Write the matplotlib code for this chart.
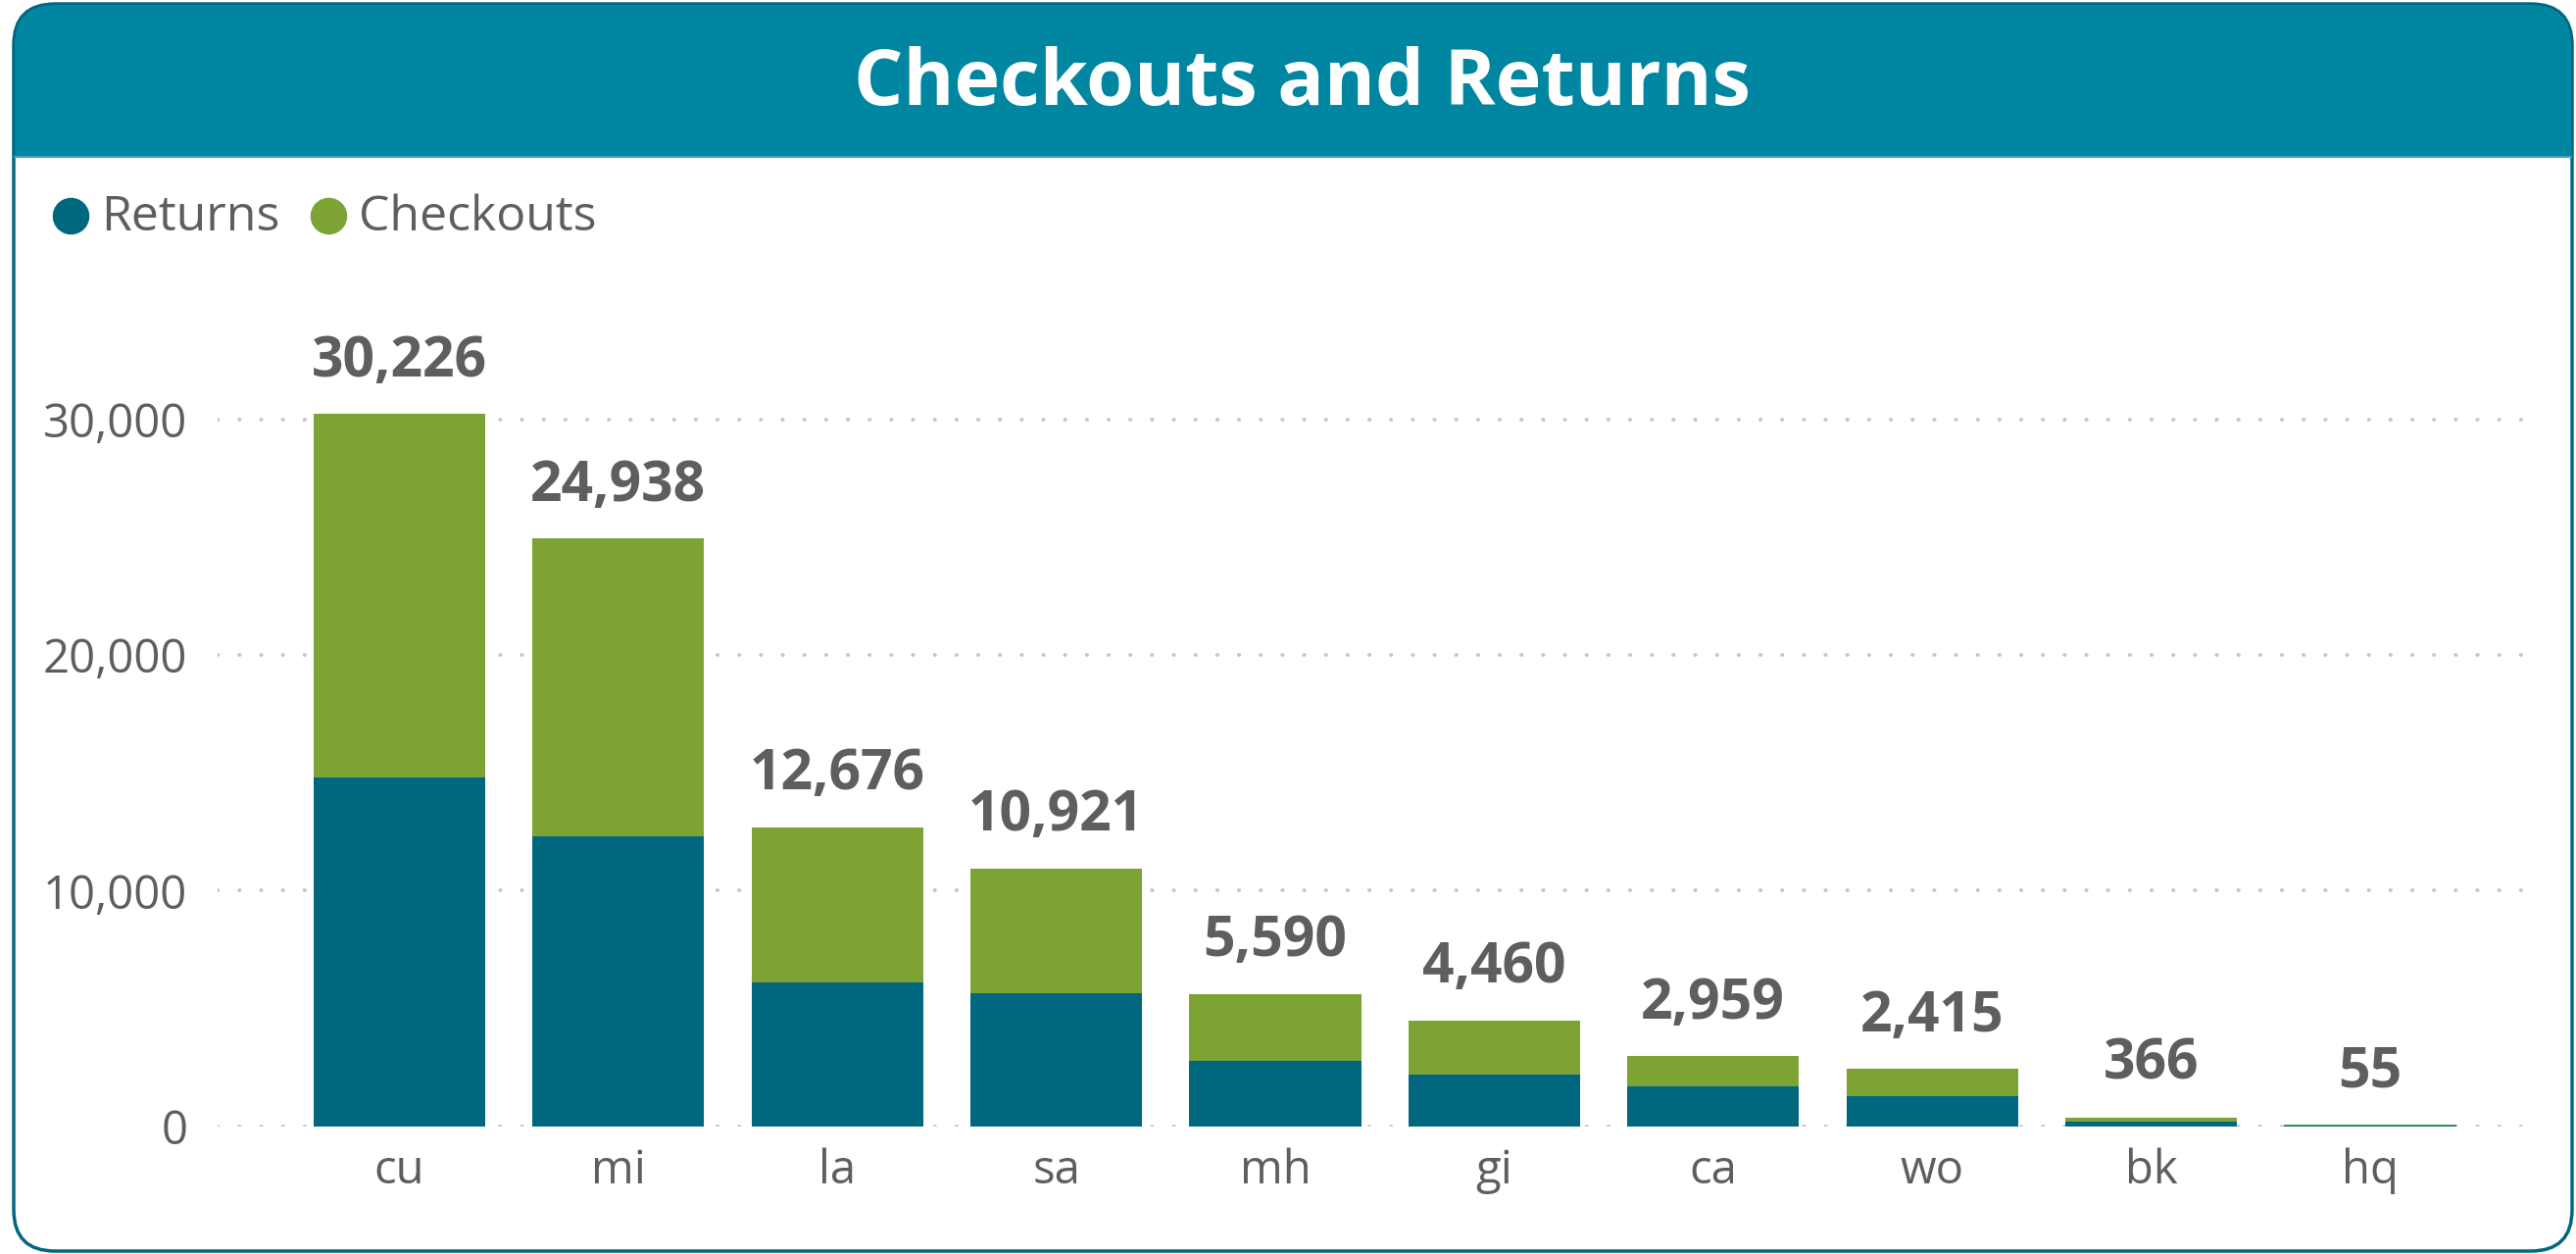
import matplotlib
matplotlib.use("Agg")
import matplotlib.pyplot as plt
from matplotlib.patches import FancyBboxPatch, Rectangle
from matplotlib.lines import Line2D
from matplotlib.ticker import FuncFormatter

# data
branches = ["cu", "mi", "la", "sa", "mh", "gi", "ca", "wo", "bk", "hq"]
returns = [14820, 12320, 6080, 5650, 2780, 2180, 1680, 1280, 180, 27]
checkouts = [15406, 12618, 6596, 5271, 2810, 2280, 1279, 1135, 186, 28]
yticks = [0, 10000, 20000, 30000]

TEAL = "#00677F"
GREEN = "#7CA334"
HEADER = "#0086A1"
GRAY = "#605E5C"
GRID = "#C8C6C4"
FONT = "Open Sans"

W, H = 2628, 1279
fig = plt.figure(figsize=(W / 100, H / 100), dpi=100)
fig.patch.set_facecolor("white")


def fx(px):
    return px / W


def fy(py):
    return 1 - py / H


# card + header band (kept under the axes)
card = FancyBboxPatch((fx(14), fy(1276)), fx(2610), 1272 / H,
                      boxstyle="round,pad=0,rounding_size=0.016",
                      transform=fig.transFigure, facecolor="white",
                      edgecolor=TEAL, linewidth=2.5, mutation_aspect=W / H,
                      zorder=-10)
fig.add_artist(card)
head = FancyBboxPatch((fx(15), fy(160)), fx(2608), 155 / H,
                      boxstyle="round,pad=0,rounding_size=0.016",
                      transform=fig.transFigure, facecolor=HEADER,
                      edgecolor="none", mutation_aspect=W / H, zorder=-9)
fig.add_artist(head)
fig.add_artist(Rectangle((fx(15), fy(160)), fx(2608), 60 / H,
                         transform=fig.transFigure, facecolor=HEADER,
                         edgecolor="none", zorder=-9))
fig.add_artist(Line2D([fx(15), fx(2623)], [fy(160), fy(160)],
                      transform=fig.transFigure, color="#3FA3BA",
                      linewidth=1.5, zorder=-8))
fig.text(fx(1328), fy(86), "Checkouts and Returns", color="white", fontsize=57,
         fontweight="bold", family=FONT, ha="center", va="center")

# legend
for x0, lab, col in [(72, "Returns", TEAL), (335, "Checkouts", GREEN)]:
    fig.add_artist(Line2D([fx(x0)], [fy(220)], transform=fig.transFigure,
                          marker="o", markersize=26, color=col, linestyle="none"))
    fig.text(fx(x0 + 31), fy(222), lab, color=GRAY, fontsize=36, family=FONT,
             ha="left", va="center")

# chart area
top_px, bot_px, left_px, right_px = 300, 1148.5, 222, 2590
ax = fig.add_axes([fx(left_px), fy(bot_px), fx(right_px - left_px),
                   (bot_px - top_px) / H])
ymax = (bot_px - top_px) / 240.2 * 10000
x = range(len(branches))
ax.bar(x, returns, width=0.785, color=TEAL, zorder=2)
ax.bar(x, checkouts, bottom=returns, width=0.785, color=GREEN, zorder=2)

for i in x:
    total = returns[i] + checkouts[i]
    ax.annotate(f"{total:,}", (i, total), xytext=(0, 28), textcoords="offset points",
                ha="center", va="baseline", fontsize=41, fontweight="bold",
                color=GRAY, family=FONT)

ax.set_xlim(-0.83, len(branches) - 1 + 0.77)
ax.set_ylim(0, ymax)
ax.set_yticks(yticks)
ax.yaxis.set_major_formatter(FuncFormatter(lambda v, p: f"{int(v):,}"))
ax.set_xticks(list(x))
ax.set_xticklabels(branches)
ax.tick_params(axis="both", length=0, labelcolor=GRAY, labelsize=34)
ax.tick_params(axis="y", pad=22)
ax.tick_params(axis="x", pad=16)
for lab in ax.get_xticklabels() + ax.get_yticklabels():
    lab.set_family(FONT)

for v in yticks:
    ax.axhline(v, color=GRID, linewidth=2.8, linestyle=(0, (0.1, 5.6)),
               dash_capstyle="round", zorder=1)
for s in ax.spines.values():
    s.set_visible(False)
ax.set_facecolor("none")

fig.savefig("out.png", dpi=100)
